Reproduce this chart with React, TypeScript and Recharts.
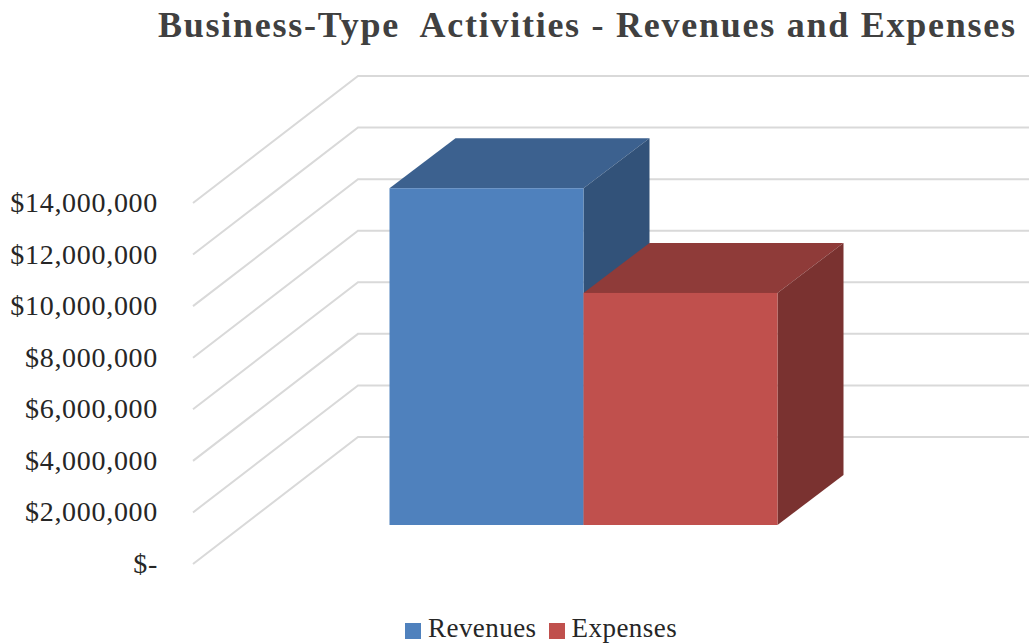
import React from "react";
import { ComposedChart, Bar, XAxis, YAxis, CartesianGrid, Legend } from "recharts";

const categories = ["Business-Type Activities"];
const revenues = [13060000];
const expenses = [9000000];
const yTicks = [0, 2000000, 4000000, 6000000, 8000000, 10000000, 12000000, 14000000];
const title = "Business-Type  Activities - Revenues and Expenses";

const rows = categories.map((name, i) => ({ name, Revenues: revenues[i], Expenses: expenses[i] }));

const FONT = "'Liberation Serif', serif";
const WALL_DX = 165;
const WALL_DY = 127;
const FRONT_DX = 50.5;
const FRONT_DY = 39;
const DEPTH_DX = 66;
const DEPTH_DY = 50;

const fmt = (v: number) => (v === 0 ? "$-" : "$" + v.toLocaleString("en-US"));

const gridLine = (props: any) => {
  const { x1, y1, key } = props;
  return (
    <path
      key={key}
      d={`M${x1},${y1} L${x1 + WALL_DX},${y1 - WALL_DY} L1029,${y1 - WALL_DY}`}
      fill="none"
      stroke="#d9d9d9"
      strokeWidth={2}
    />
  );
};

const box = (front: string, top: string, side: string) => (props: any) => {
  const { x, y, width, height } = props;
  const l = x + FRONT_DX;
  const r = l + width;
  const t = y - FRONT_DY;
  const b = t + height;
  return (
    <g>
      <path d={`M${l},${t} L${l + DEPTH_DX},${t - DEPTH_DY} L${r + DEPTH_DX},${t - DEPTH_DY} L${r},${t} Z`} fill={top} />
      <path d={`M${r},${t} L${r + DEPTH_DX},${t - DEPTH_DY} L${r + DEPTH_DX},${b - DEPTH_DY} L${r},${b} Z`} fill={side} />
      <rect x={l} y={t} width={width} height={height} fill={front} />
    </g>
  );
};

const yTick = (props: any) => {
  const { y, payload } = props;
  return (
    <text x={158} y={y + 9} textAnchor="end" fontFamily={FONT} fontSize={28} letterSpacing={0.7} fill="#262626">
      {fmt(payload.value)}
    </text>
  );
};

export default function App() {
  return (
    <div style={{ position: "absolute", left: 0, top: 0, width: 1029, height: 643, background: "#fff", overflow: "hidden" }}>
      <div
        style={{
          position: "absolute",
          left: 0,
          width: 1029,
          top: 3,
          paddingLeft: 158,
          boxSizing: "border-box",
          fontFamily: FONT,
          fontWeight: 700,
          fontSize: 36,
          letterSpacing: 1.74,
          lineHeight: "44px",
          color: "#404040",
          whiteSpace: "pre",
        }}
      >
        {title}
      </div>
      <ComposedChart
        width={1029}
        height={643}
        data={rows}
        margin={{ top: 203, right: 156, bottom: 49, left: 33 }}
        barGap={0}
        barCategoryGap={0}
        style={{ overflow: "hidden" }}
      >
        <CartesianGrid horizontal={gridLine} vertical={false} />
        <XAxis dataKey="name" hide />
        <YAxis
          domain={[0, 14000000]}
          ticks={yTicks}
          width={160}
          axisLine={false}
          tickLine={false}
          tick={yTick}
          interval={0}
        />
        <Bar dataKey="Revenues" fill="#4f81bd" barSize={194} isAnimationActive={false} shape={box("#4f81bd", "#3c618f", "#325279")} />
        <Bar dataKey="Expenses" fill="#c0504d" barSize={194} isAnimationActive={false} shape={box("#c0504d", "#8f3b39", "#7a3230")} />
        <Legend
          verticalAlign="bottom"
          align="left"
          iconType="square"
          iconSize={16}
          itemSorter={null}
          wrapperStyle={{ position: "absolute", left: 405, top: 613, width: 320, height: 30, fontFamily: FONT, fontSize: 27, letterSpacing: 0.45 }}
          formatter={(value: string) => <span style={{ color: "#262626", marginLeft: 3, marginRight: 2 }}>{value}</span>}
        />
      </ComposedChart>
    </div>
  );
}
